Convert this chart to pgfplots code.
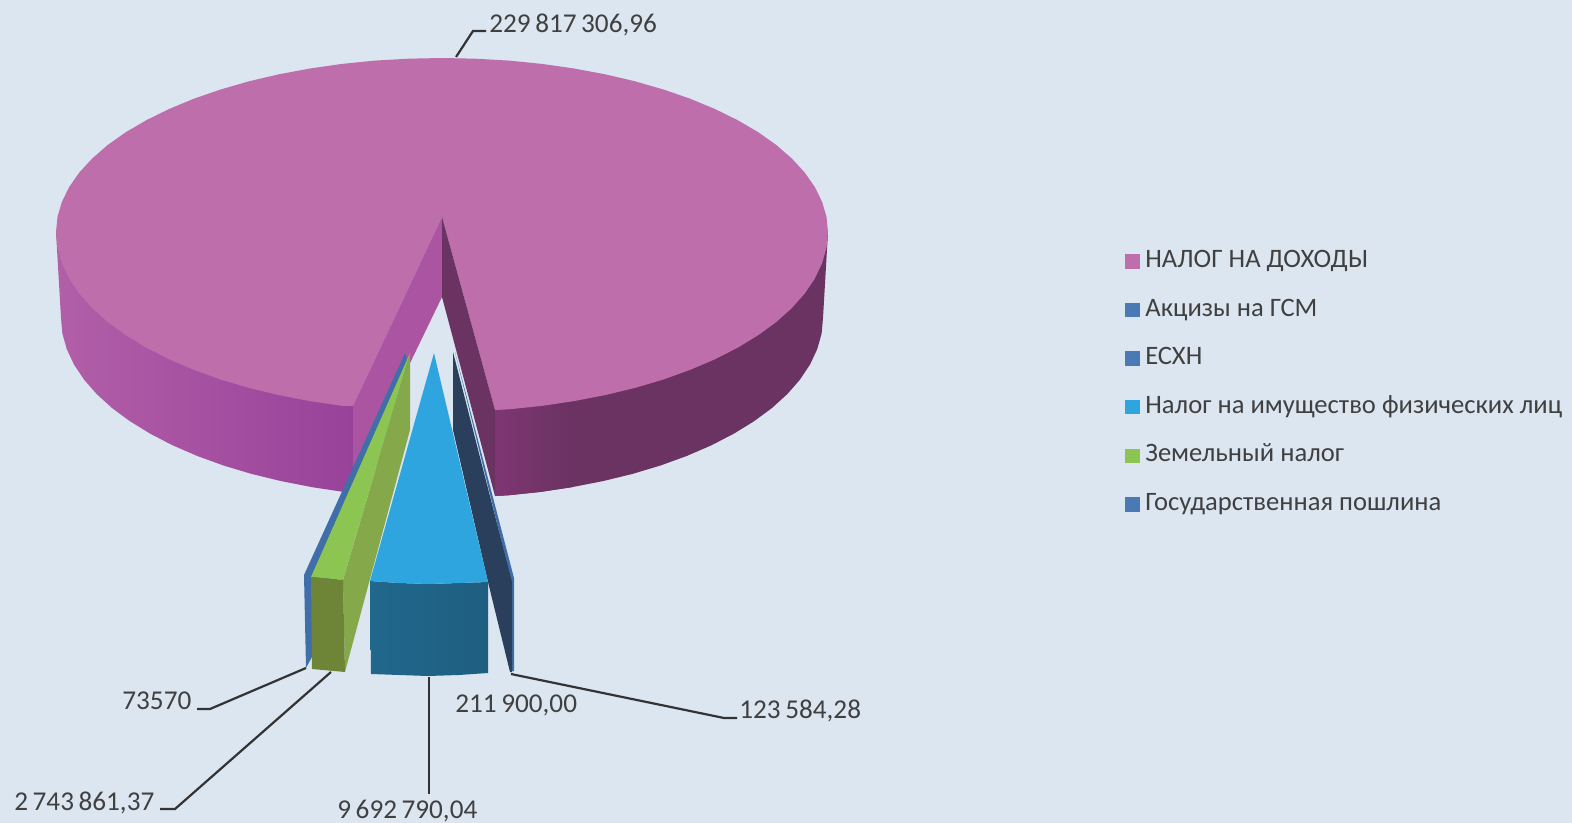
\documentclass[border=0pt]{standalone}
\usepackage{fontspec}
\setmainfont{Carlito}
\usepackage{pgfplots}
\pgfplotsset{compat=1.18}
\definecolor{bgc}{HTML}{DCE6F1}
\definecolor{face}{HTML}{BE6EAB}
\definecolor{wallL}{HTML}{AB54A1}
\definecolor{wallR}{HTML}{6A3362}
\definecolor{sideLa}{HTML}{B25FA8}
\definecolor{sideLb}{HTML}{98429A}
\definecolor{sideRa}{HTML}{7E3672}
\definecolor{cynA}{HTML}{20688C}
\definecolor{cynB}{HTML}{1F5E80}
\definecolor{txt}{HTML}{404040}
\definecolor{blu}{HTML}{4A7AB5}
\definecolor{bluD}{HTML}{3F6EA8}
\definecolor{grn}{HTML}{8CC552}
\definecolor{grnW}{HTML}{84A84A}
\definecolor{grnF}{HTML}{6E8538}
\definecolor{cyn}{HTML}{2EA5DE}
\definecolor{navy}{HTML}{2A3F5C}
\pgfplotsset{poly/.style={forget plot,draw=none,mark=none},
  lead/.style={forget plot,mark=none,color=black!80,line width=1.1pt}}
\tikzset{lab/.style={anchor=west,inner sep=0pt,text=txt,font=\fontsize{13.6}{15}\selectfont}}
\begin{document}
\begin{tikzpicture}
\begin{axis}[scale only axis,width=786pt,height=411.5pt,
  xmin=0,xmax=1572,ymin=0,ymax=823,y dir=reverse,hide axis,
  legend style={at={(axis cs:1124.5,249)},anchor=north west,draw=none,fill=none,
    font=\fontsize{13.3}{15}\selectfont\color{txt},row sep=12.3pt,inner sep=0pt,
    nodes={text height=9pt,text depth=3pt,inner ysep=0pt,inner xsep=2.75pt}},
  legend cell align=left,
  legend image code/.code={\fill[#1] (0pt,-3.6pt) rectangle (7.5pt,3.6pt);}]
% background
\addplot[poly,fill=bgc] coordinates {(0,0)(1572,0)(1572,823)(0,823)} --cycle;
% left side
\addplot[poly,left color=sideLa,right color=sideLb] coordinates {(353,395)(353,493)(343.4,491.9)(311.7,487.1)(281,481.1)(251.5,473.9)(223.5,465.5)(197.1,455.9)(172.6,445.3)(150.2,433.7)(129.9,421.2)(112,408)(96.7,394.1)(84,379.6)(74,364.6)(66.8,349.2)(62.4,333.7)(61,318)(56,232)} --cycle;
% right side
\addplot[poly,fill=wallR] coordinates {(495,400)(495,496)(508.1,495.3)(540.6,491.9)(572.3,487.1)(603,481.1)(632.5,473.9)(660.5,465.5)(686.9,455.9)(711.4,445.3)(733.8,433.7)(754.1,421.2)(772,408)(787.3,394.1)(800,379.6)(810,364.6)(817.2,349.2)(821.6,333.7)(823,318)(828,232)} --cycle;
\addplot[poly,left color=sideRa,right color=wallR] coordinates {(495,400)(495,496)(508.1,495.3)(540.6,491.9)(572.3,487.1)(572.3,395)} --cycle;
% top face
\addplot[poly,fill=face] coordinates {(495,410)(509,409.3)(541.9,405.9)(574,401.1)(605.1,395.1)(635,387.9)(663.4,379.5)(690.1,369.9)(714.9,359.3)(737.7,347.7)(758.2,335.2)(776.3,322)(791.8,308.1)(804.7,293.6)(814.8,278.6)(822.1,263.2)(826.5,247.7)(828,232)(826.5,216.8)(822.1,201.8)(814.8,187)(804.7,172.5)(791.8,158.5)(776.3,145)(758.2,132.2)(737.7,120.2)(714.9,109)(690.1,98.7)(663.4,89.5)(635,81.3)(605.1,74.3)(574,68.5)(541.9,63.9)(509,60.6)(475.7,58.7)(442,58)(408.3,58.7)(375,60.6)(342.1,63.9)(310,68.5)(278.9,74.3)(249,81.3)(220.6,89.5)(193.9,98.7)(169.1,109)(146.3,120.2)(125.8,132.2)(107.7,145)(92.2,158.5)(79.3,172.5)(69.2,187)(61.9,201.8)(57.5,216.8)(56,232)(57.5,247.7)(61.9,263.2)(69.2,278.6)(79.3,293.6)(92.2,308.1)(107.7,322)(125.8,335.2)(146.3,347.7)(169.1,359.3)(193.9,369.9)(220.6,379.5)(249,387.9)(278.9,395.1)(310,401.1)(342.1,405.9)(353,406)(442,217)} --cycle;
% inner walls
\addplot[poly,fill=wallL] coordinates {(442,217)(442,297)(353,481)(353,406)} --cycle;
\addplot[poly,fill=wallR] coordinates {(442,217)(442,297)(495,496)(495,410)} --cycle;
% thin blue slice
\addplot[poly,fill=bluD] coordinates {(405,353)(304,575)(306,668)(312,657)(330,600)(410,370)} --cycle;
% green slice
\addplot[poly,fill=grnW] coordinates {(410,353)(343,580)(345,672)(410,430)} --cycle;
\addplot[poly,fill=grn] coordinates {(410,353)(311,577)(343,580)} --cycle;
\addplot[poly,fill=grnF] coordinates {(311,577)(343,580)(345,672)(312,669)} --cycle;
% navy slice
\addplot[poly,fill=bluD] coordinates {(455,352)(514,578)(514,671)(511,671)(511,580)} --cycle;
\addplot[poly,fill=navy] coordinates {(453,352)(453,430)(488,582)(510,672)(512,672)(512,582)} --cycle;
% cyan slice
\addplot[poly,left color=cynA,right color=cynB] coordinates {(370,581)(399,583)(429,584)(459,583)(488,582)(488,673)(459,675)(428,676)(399,675)(371,674)} --cycle;
\addplot[poly,fill=cyn] coordinates {(434,353)(370,581)(399,583)(429,584)(459,583)(488,582)} --cycle;
% leaders
\addplot[lead] coordinates {(456,57)(473,31)(486,31)};
\addplot[lead] coordinates {(306,668)(210,709)(197,709)};
\addplot[lead] coordinates {(331,672)(175,809)(160,809)};
\addplot[lead] coordinates {(429,677)(429,794)};
\addplot[lead] coordinates {(511,674)(724,718)(737,718)};
% labels
\node[lab] at (axis cs:489,25) {229\,817\,306,96};
\node[lab] at (axis cs:122,701) {73570};
\node[lab] at (axis cs:14,803) {2\,743\,861,37};
\node[lab] at (axis cs:337,811) {9\,692\,790,04};
\node[lab] at (axis cs:455,705) {211\,900,00};
\node[lab] at (axis cs:739,711) {123\,584,28};
% legend
\addlegendimage{fill=face,draw=none}\addlegendentry{НАЛОГ НА ДОХОДЫ}
\addlegendimage{fill=blu,draw=none}\addlegendentry{Акцизы на ГСМ}
\addlegendimage{fill=blu,draw=none}\addlegendentry{ЕСХН}
\addlegendimage{fill=cyn,draw=none}\addlegendentry{Налог на имущество физических лиц}
\addlegendimage{fill=grn,draw=none}\addlegendentry{Земельный налог}
\addlegendimage{fill=blu,draw=none}\addlegendentry{Государственная пошлина}
\end{axis}
\end{tikzpicture}
\end{document}
